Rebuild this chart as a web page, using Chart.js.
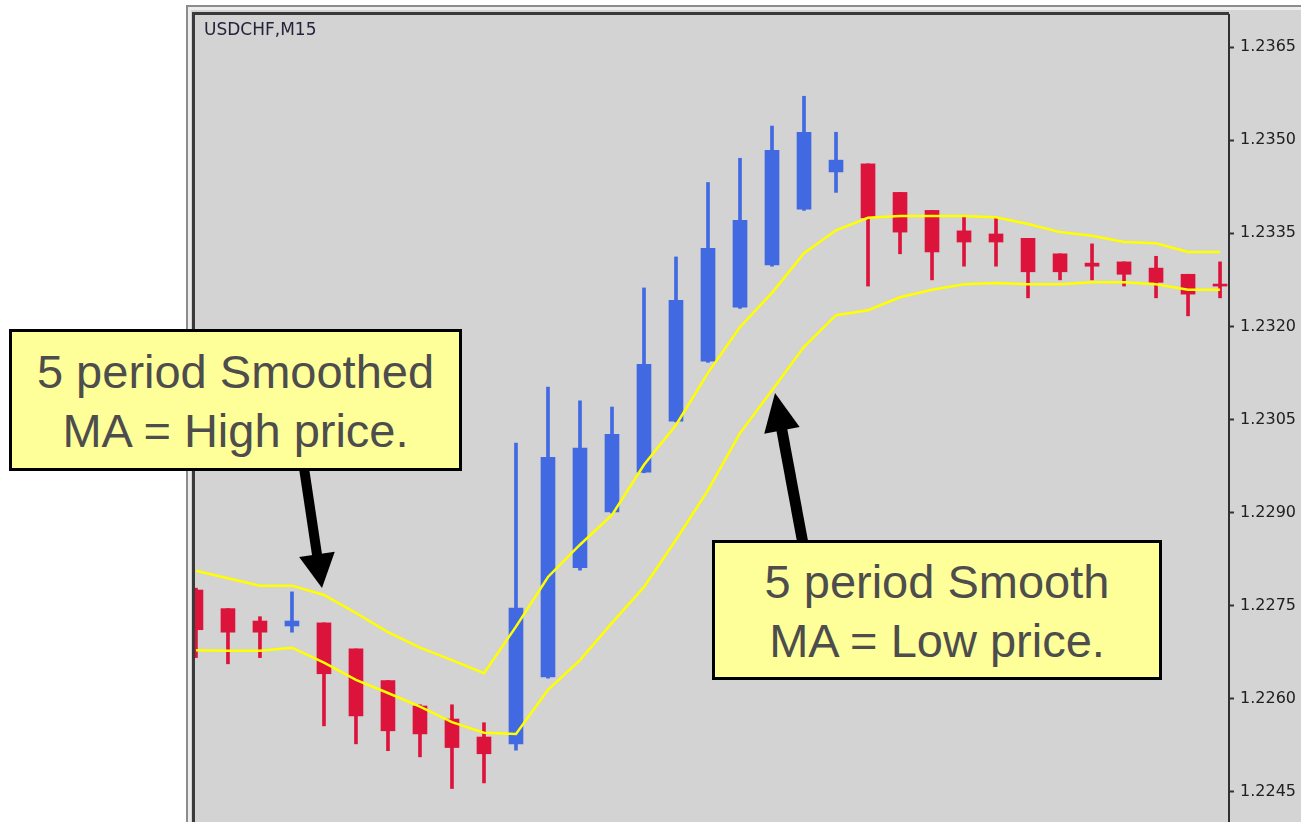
<!DOCTYPE html>
<html>
<head>
<meta charset="utf-8">
<title>USDCHF,M15 - smoothed MA on High / Low</title>
<script src="https://cdn.jsdelivr.net/npm/chart.js@4.4.1/dist/chart.umd.min.js"></script>
<style>
  html, body { margin: 0; padding: 0; background: #fff; overflow: hidden; }
  #wrap { position: relative; width: 1301px; height: 822px; }
  #chart { position: absolute; left: 0; top: 0; }
  .symbol {
    position: absolute; left: 204px; top: 21px;
    font: 17px "DejaVu Sans", sans-serif; line-height: 17px;
    color: #23233a; white-space: nowrap;
  }
  .note {
    position: absolute; box-sizing: border-box;
    border: 3px solid #000; background: #ffff99; color: #4d4d4d;
    font: 47px "Liberation Sans", Arial, sans-serif; line-height: 59px;
    text-align: center; white-space: nowrap;
  }
  #noteHigh { left: 9px; top: 329px; width: 453px; height: 142px; padding-top: 10px; }
  #noteLow { left: 712px; top: 540px; width: 450px; height: 140px; padding-top: 9px; }
</style>
</head>
<body>
<div id="wrap">
  <canvas id="chart" width="1301" height="822"></canvas>
  <div class="symbol">USDCHF,M15</div>
  <div class="note" id="noteHigh">5 period Smoothed<br>MA = High price.</div>
  <div class="note" id="noteLow">5 period Smooth<br>MA = Low price.</div>
</div>
<script>
'use strict';

/* USDCHF M15 candles, oldest bar first (33 bars). */
const opens  = [1.22775, 1.22745, 1.22725, 1.22717, 1.22722, 1.22680, 1.22629, 1.22588, 1.22567, 1.22538,
                1.22527, 1.22635, 1.22811, 1.22901, 1.22965, 1.23047, 1.23144, 1.23231, 1.23299, 1.23389,
                1.23449, 1.23462, 1.23416, 1.23387, 1.23354, 1.23349, 1.23342, 1.23317, 1.23302, 1.23304,
                1.23294, 1.23284, 1.23268];
const highs  = [1.22778, 1.22745, 1.22732, 1.22772, 1.22722, 1.22680, 1.22629, 1.22590, 1.22590, 1.22561,
                1.23012, 1.23102, 1.23080, 1.23070, 1.23262, 1.23312, 1.23432, 1.23471, 1.23523, 1.23571,
                1.23513, 1.23462, 1.23416, 1.23387, 1.23376, 1.23375, 1.23342, 1.23317, 1.23333, 1.23304,
                1.23313, 1.23284, 1.23304];
const lows   = [1.22666, 1.22656, 1.22666, 1.22707, 1.22556, 1.22527, 1.22516, 1.22506, 1.22455, 1.22464,
                1.22517, 1.22633, 1.22807, 1.22899, 1.22964, 1.23046, 1.23142, 1.23229, 1.23297, 1.23387,
                1.23416, 1.23265, 1.23317, 1.23275, 1.23297, 1.23297, 1.23246, 1.23275, 1.23275, 1.23265,
                1.23246, 1.23217, 1.23246];
const closes = [1.22711, 1.22707, 1.22707, 1.22725, 1.22640, 1.22572, 1.22548, 1.22543, 1.22521, 1.22511,
                1.22746, 1.22989, 1.23004, 1.23026, 1.23139, 1.23242, 1.23326, 1.23371, 1.23484, 1.23513,
                1.23468, 1.23375, 1.23352, 1.23320, 1.23336, 1.23336, 1.23288, 1.23288, 1.23297, 1.23284,
                1.23271, 1.23252, 1.23265];

// 5 period smoothed MA, one applied to High, one to Low
const maHigh = [1.22806, 1.22794, 1.22782, 1.22782, 1.22767, 1.22738, 1.22707, 1.22682, 1.22662, 1.22641,
                1.22716, 1.22796, 1.22848, 1.22896, 1.22977, 1.23041, 1.23125, 1.23199, 1.23254, 1.23318,
                1.23355, 1.23375, 1.23378, 1.23378, 1.23378, 1.23376, 1.23365, 1.23352, 1.23346, 1.23336,
                1.23334, 1.23320, 1.23320];
const maLow  = [1.22678, 1.22677, 1.22677, 1.22682, 1.22658, 1.22630, 1.22609, 1.22587, 1.22562, 1.22545,
                1.22543, 1.22614, 1.22662, 1.22722, 1.22780, 1.22856, 1.22936, 1.23028, 1.23097, 1.23167,
                1.23218, 1.23226, 1.23247, 1.23259, 1.23268, 1.23270, 1.23268, 1.23268, 1.23271, 1.23271,
                1.23268, 1.23259, 1.23259];

const yTicks = [1.2245, 1.2260, 1.2275, 1.2290, 1.2305, 1.2320, 1.2335, 1.2350, 1.2365];

const BULL = '#4169e1';
const BEAR = '#dc143c';
const MA_COLOR = '#ffff00';

// visible window: the first bar is half cut by the left border
const X_MIN = -0.03, X_MAX = 32.28;
const Y_MIN = 1.22401, Y_MAX = 1.23702;

const candleColors = opens.map((o, i) => closes[i] >= o ? BULL : BEAR);
const bodies = opens.map((o, i) => ({ x: i, y: [o, closes[i]] }));
const wicks = lows.map((l, i) => ({ x: i, y: [l, highs[i]] }));
const toPoints = arr => arr.map((v, i) => ({ x: i, y: v }));

// MT4 style window frame + plot background
const frame = {
  id: 'frame',
  beforeDraw(chart) {
    const { ctx, chartArea: a, width, height } = chart;
    ctx.save();
    ctx.fillStyle = '#d4d4d4';
    ctx.fillRect(186, 5, width - 186, height - 5);
    ctx.fillStyle = '#8c8c8c';
    ctx.fillRect(186, 5, 2, height - 5);
    ctx.fillRect(186, 5, width - 186, 2);
    ctx.fillStyle = '#ececec';
    ctx.fillRect(188, 7, 3, height - 7);
    ctx.fillRect(188, 7, width - 188, 3);
    ctx.fillStyle = '#3a3a3a';
    ctx.fillRect(a.left - 3, a.top - 3, 3, height - a.top + 3);
    ctx.fillRect(a.left - 3, a.top - 3, a.right - a.left + 3, 3);
    ctx.fillStyle = '#d3d3d3';
    ctx.fillRect(a.left, a.top, a.right - a.left, a.bottom - a.top);
    ctx.restore();
  }
};

function drawArrow(ctx, x0, y0, x1, y1, shaft, headLen, headHalf) {
  const len = Math.hypot(x1 - x0, y1 - y0);
  const ux = (x1 - x0) / len, uy = (y1 - y0) / len;
  const bx = x1 - ux * headLen, by = y1 - uy * headLen;
  ctx.strokeStyle = '#000';
  ctx.lineWidth = shaft;
  ctx.beginPath();
  ctx.moveTo(x0, y0);
  ctx.lineTo(bx + ux * 2, by + uy * 2);
  ctx.stroke();
  ctx.fillStyle = '#000';
  ctx.beginPath();
  ctx.moveTo(x1, y1);
  ctx.lineTo(bx - uy * headHalf, by + ux * headHalf);
  ctx.lineTo(bx + uy * headHalf, by - ux * headHalf);
  ctx.closePath();
  ctx.fill();
}

// pointer arrows from the two note boxes
const arrows = {
  id: 'arrows',
  afterDraw(chart) {
    const ctx = chart.ctx;
    ctx.save();
    drawArrow(ctx, 304, 468, 322, 588, 10, 34, 18);
    drawArrow(ctx, 803, 544, 775, 393, 11, 38, 18);
    ctx.restore();
  }
};

new Chart(document.getElementById('chart'), {
  type: 'bar',
  data: {
    datasets: [
      { type: 'line', data: toPoints(maHigh), borderColor: MA_COLOR, borderWidth: 2.5,
        pointRadius: 0, tension: 0, fill: false, clip: 0 },
      { type: 'line', data: toPoints(maLow), borderColor: MA_COLOR, borderWidth: 2.5,
        pointRadius: 0, tension: 0, fill: false, clip: 0 },
      { data: bodies, backgroundColor: candleColors, barThickness: 14, minBarLength: 2,
        borderWidth: 0, grouped: false, clip: 0 },
      { data: wicks, backgroundColor: candleColors, barThickness: 3,
        borderWidth: 0, grouped: false, clip: 0 }
    ]
  },
  options: {
    responsive: false,
    devicePixelRatio: 1,
    animation: false,
    events: [],
    layout: { padding: { left: 195, top: 15, right: 0, bottom: 0 } },
    plugins: { legend: { display: false }, tooltip: { enabled: false } },
    scales: {
      x: {
        type: 'linear', display: false, offset: false, bounds: 'data',
        min: X_MIN, max: X_MAX, grid: { display: false, offset: false }
      },
      y: {
        position: 'right',
        min: Y_MIN,
        max: Y_MAX,
        afterBuildTicks: scale => { scale.ticks = yTicks.map(v => ({ value: v })); },
        afterFit: scale => { scale.width = 72; scale.paddingTop = 0; scale.paddingBottom = 0; },
        grid: { drawOnChartArea: false, drawTicks: true, tickLength: 5, tickColor: '#333', tickWidth: 2 },
        border: { display: true, color: '#303030', width: 2 },
        ticks: {
          padding: 6,
          color: '#202020',
          font: { family: 'DejaVu Sans', size: 16 },
          callback: v => v.toFixed(4)
        }
      }
    }
  },
  plugins: [frame, arrows]
});
</script>
</body>
</html>
